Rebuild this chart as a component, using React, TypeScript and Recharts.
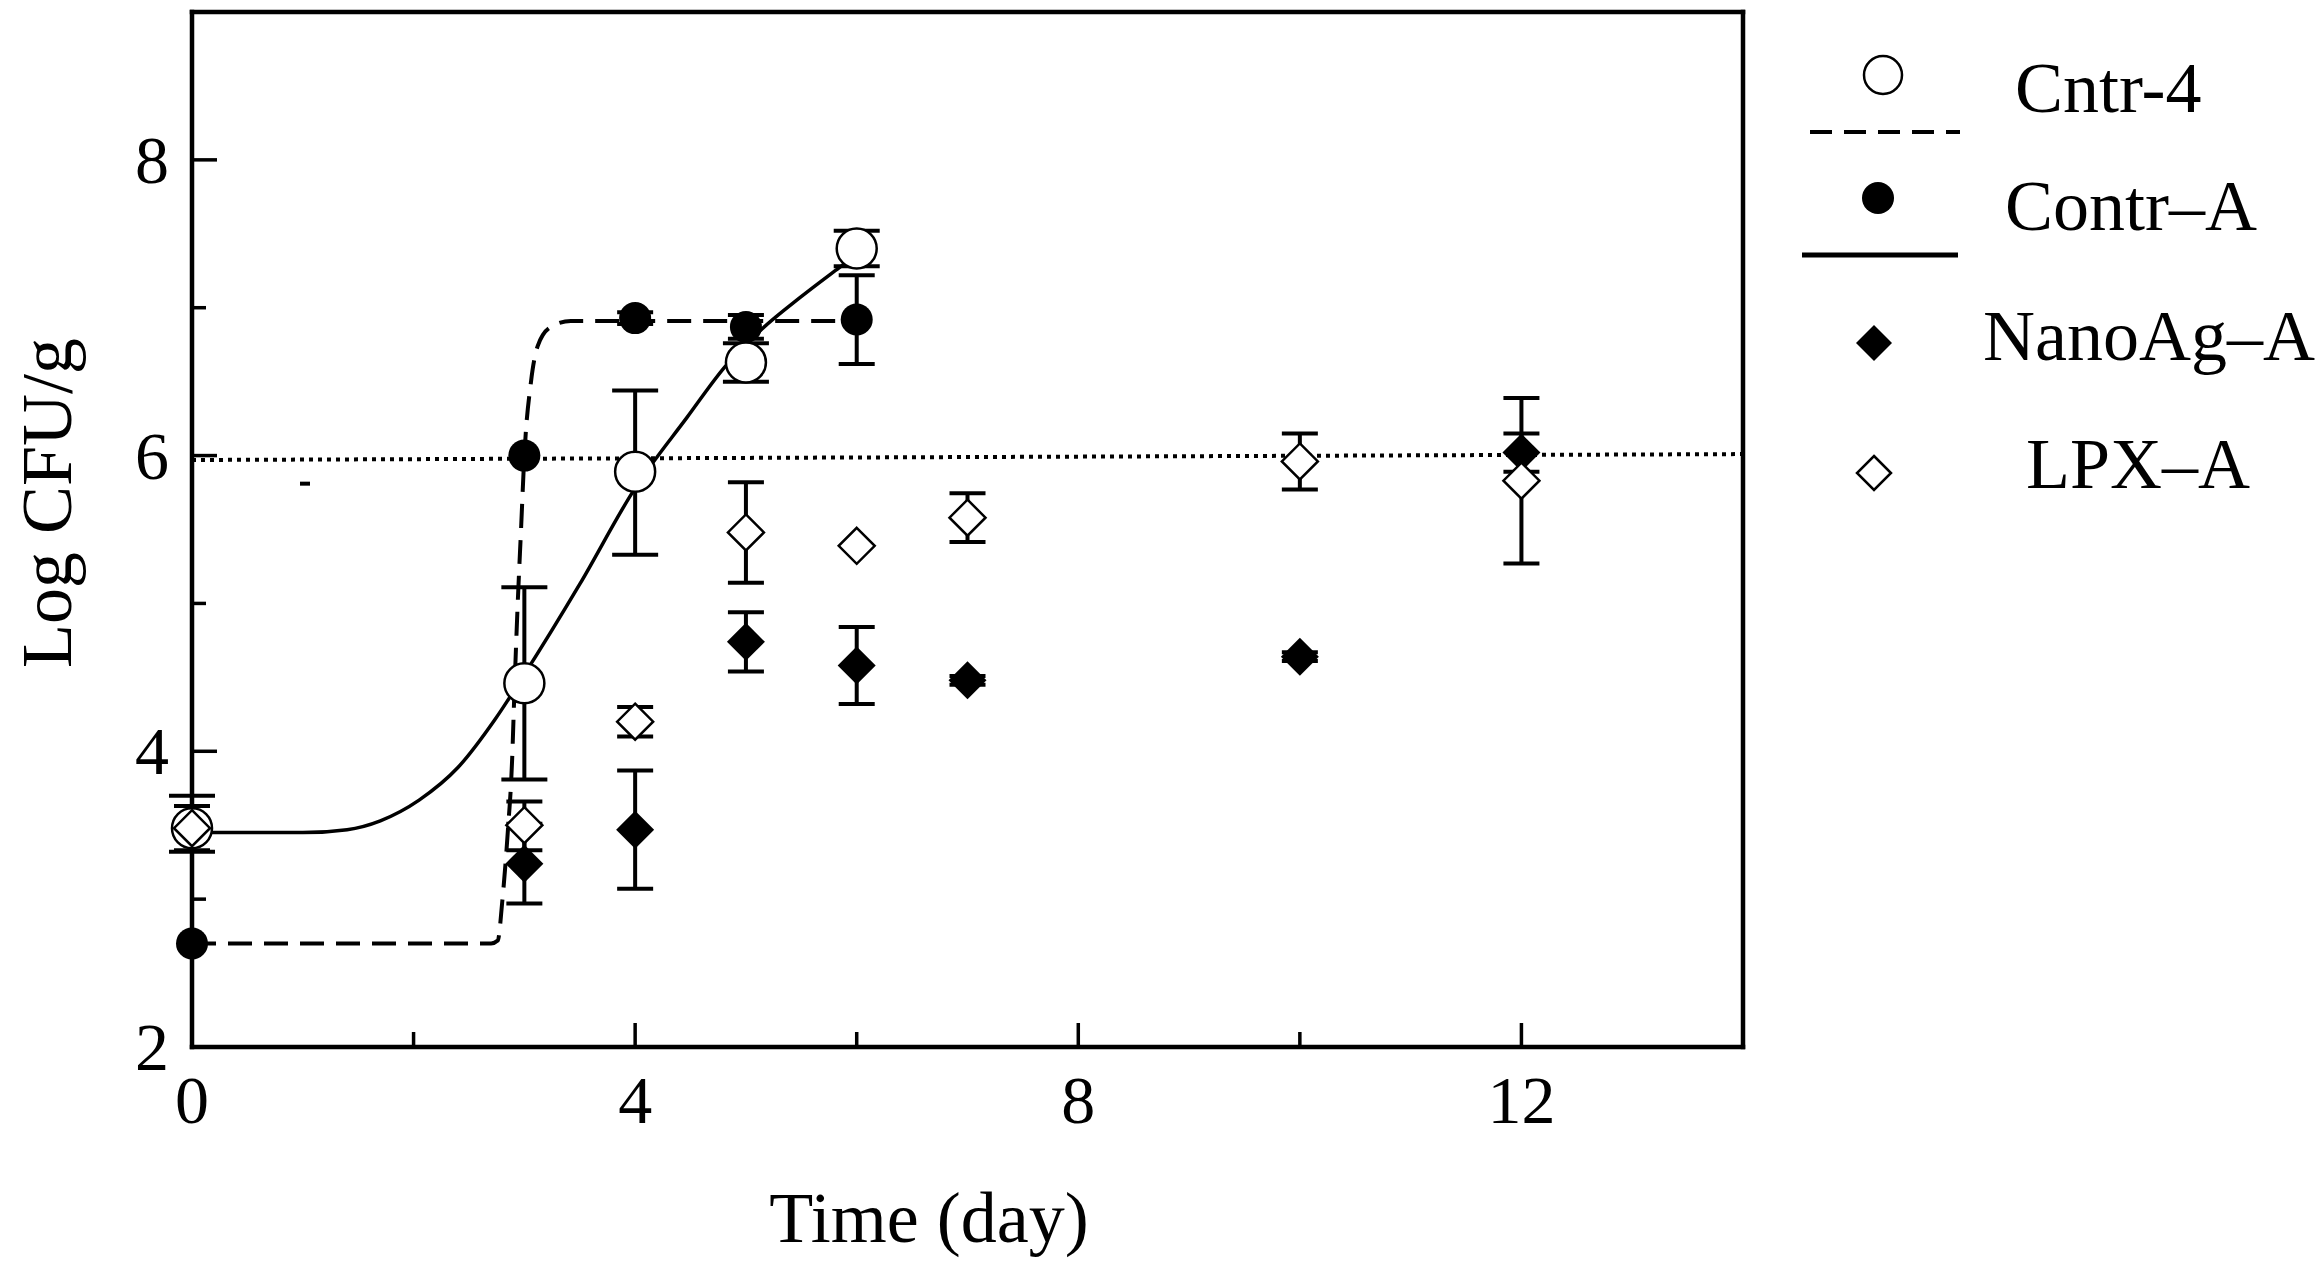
import React from "react";
import { ComposedChart, ErrorBar, Line, Scatter, XAxis, YAxis } from "recharts";

// measured points, err = ± or [minus, plus]
const cntr4 = [
  { x: 0, y: 3.48, err: [0.16, 0.22] },
  { x: 3, y: 4.46, err: 0.65 },
  { x: 4, y: 5.89, err: [0.56, 0.55] },
  { x: 5, y: 6.63, err: 0.13 },
  { x: 6, y: 7.4, err: 0.12 },
];

const contrA = [
  { x: 0, y: 2.7, err: null },
  { x: 3, y: 6.0, err: null },
  { x: 4, y: 6.93, err: 0.04 },
  { x: 5, y: 6.87, err: 0.08 },
  { x: 6, y: 6.92, err: 0.3 },
];

const nanoAgA = [
  { x: 3, y: 3.24, err: 0.27 },
  { x: 4, y: 3.47, err: 0.4 },
  { x: 5, y: 4.74, err: 0.2 },
  { x: 6, y: 4.58, err: 0.26 },
  { x: 7, y: 4.48, err: 0.03 },
  { x: 10, y: 4.64, err: 0.03 },
  { x: 12, y: 6.02, err: 0.13 },
];

const lpxA = [
  { x: 0, y: 3.48, err: 0.15 },
  { x: 3, y: 3.5, err: [0.17, 0.16] },
  { x: 4, y: 4.2, err: 0.1 },
  { x: 5, y: 5.48, err: 0.34 },
  { x: 6, y: 5.39, err: null },
  { x: 7, y: 5.58, err: 0.165 },
  { x: 10, y: 5.96, err: 0.19 },
  { x: 12, y: 5.83, err: 0.56 },
];

// fitted curves
const dashedFit = [
  { x: 0, y: 2.7 },
  { x: 2.7, y: 2.7 },
  { x: 2.76, y: 2.72 },
  { x: 2.8, y: 2.98 },
  { x: 2.85, y: 3.45 },
  { x: 2.89, y: 3.95 },
  { x: 2.91, y: 4.4 },
  { x: 2.94, y: 5.0 },
  { x: 2.97, y: 5.5 },
  { x: 3.0, y: 6.0 },
  { x: 3.06, y: 6.5 },
  { x: 3.12, y: 6.74 },
  { x: 3.24, y: 6.87 },
  { x: 3.42, y: 6.91 },
  { x: 6, y: 6.91 },
];

const solidFit = [
  { x: 0, y: 3.45 },
  { x: 1, y: 3.45 },
  { x: 1.4, y: 3.47 },
  { x: 1.7, y: 3.53 },
  { x: 2.05, y: 3.67 },
  { x: 2.4, y: 3.89 },
  { x: 2.73, y: 4.21 },
  { x: 3.0, y: 4.52 },
  { x: 3.5, y: 5.13 },
  { x: 4.0, y: 5.78 },
  { x: 4.47, y: 6.26 },
  { x: 4.81, y: 6.6 },
  { x: 5.15, y: 6.86 },
  { x: 5.49, y: 7.07 },
  { x: 5.84, y: 7.27 },
  { x: 6.0, y: 7.36 },
];

const threshold = [
  { x: 0, y: 5.97 },
  { x: 14, y: 6.01 },
];

const stray = [{ x: 1.02, y: 5.81 }];

const xTicks = [0, 2, 4, 6, 8, 10, 12];
const yTicks = [2, 3, 4, 5, 6, 7, 8];
const legendLabels = ["Cntr-4", "Contr–A", "NanoAg–A", "LPX–A"];

const FONT = "'Liberation Serif', 'Times New Roman', serif";
const INK = "#000";

const openCircle = (p: any) => (
  <circle cx={p.cx} cy={p.cy} r={20} fill="#fff" stroke={INK} strokeWidth={2.5} />
);
const dot = (p: any) => <circle cx={p.cx} cy={p.cy} r={16} fill={INK} />;
const diamond = (cx: number, cy: number, h: number) =>
  `M${cx},${cy - h} L${cx + h},${cy} L${cx},${cy + h} L${cx - h},${cy} Z`;
const filledDiamond = (p: any) => <path d={diamond(p.cx, p.cy, 19)} fill={INK} />;
const openDiamond = (p: any) => (
  <path d={diamond(p.cx, p.cy, 18)} fill="#fff" stroke={INK} strokeWidth={2.5} />
);
const dash = (p: any) => <rect x={p.cx - 5} y={p.cy - 2} width={10} height={4} fill={INK} />;

const BottomTick = (p: any) => {
  const v = p.payload.value;
  const major = v % 4 === 0;
  return (
    <g>
      <line x1={p.x} x2={p.x} y1={p.y} y2={p.y - (major ? 24 : 15)} stroke={INK} strokeWidth={3.5} />
      {major && (
        <text x={p.x} y={p.y + 76} textAnchor="middle" fontFamily={FONT} fontSize={68} fill={INK}>
          {v}
        </text>
      )}
    </g>
  );
};

const TopTick = (p: any) => {
  const major = p.payload.value % 4 === 0;
  return <line x1={p.x} x2={p.x} y1={p.y} y2={p.y + (major ? 24 : 15)} stroke={INK} strokeWidth={3.5} />;
};

const LeftTick = (p: any) => {
  const v = p.payload.value;
  const major = v % 2 === 0;
  return (
    <g>
      <line x1={p.x} x2={p.x + (major ? 25 : 14)} y1={p.y} y2={p.y} stroke={INK} strokeWidth={3.5} />
      {major && (
        <text x={p.x - 23} y={p.y} dy="0.34em" textAnchor="end" fontFamily={FONT} fontSize={68} fill={INK}>
          {v}
        </text>
      )}
    </g>
  );
};

const RightTick = (p: any) => {
  const major = p.payload.value % 2 === 0;
  return <line x1={p.x} x2={p.x - (major ? 25 : 14)} y1={p.y} y2={p.y} stroke={INK} strokeWidth={3.5} />;
};

const axisLine = { stroke: INK, strokeWidth: 4.5, strokeLinecap: "square" as const };

export default function App() {
  const common = { xAxisId: "b", yAxisId: "l", isAnimationActive: false };
  return (
    <div style={{ position: "relative", width: 2318, height: 1279, background: "#fff" }}>
      <style>{"body{margin:0}"}</style>
      <ComposedChart width={2318} height={1279} margin={{ top: 0, right: 570, bottom: 0, left: 0 }}>
        <XAxis
          xAxisId="b"
          dataKey="x"
          type="number"
          domain={[0, 14]}
          ticks={xTicks}
          interval={0}
          height={232}
          tickSize={0}
          tickMargin={0}
          tickLine={false}
          axisLine={axisLine}
          tick={<BottomTick />}
        />
        <XAxis
          xAxisId="t"
          orientation="top"
          dataKey="x"
          type="number"
          domain={[0, 14]}
          ticks={xTicks}
          interval={0}
          height={12}
          tickSize={0}
          tickMargin={0}
          tickLine={false}
          axisLine={axisLine}
          tick={<TopTick />}
        />
        <YAxis
          yAxisId="l"
          type="number"
          domain={[2, 9]}
          ticks={yTicks}
          interval={0}
          width={192}
          tickSize={0}
          tickMargin={0}
          tickLine={false}
          axisLine={axisLine}
          tick={<LeftTick />}
        />
        <YAxis
          yAxisId="r"
          orientation="right"
          type="number"
          domain={[2, 9]}
          ticks={yTicks}
          interval={0}
          width={5}
          tickSize={0}
          tickMargin={0}
          tickLine={false}
          axisLine={axisLine}
          tick={<RightTick />}
        />

        <Line {...common} data={threshold} dataKey="y" type="linear" stroke={INK} strokeWidth={4}
          strokeDasharray="4 5" dot={false} activeDot={false} />
        <Line {...common} data={dashedFit} dataKey="y" type="monotone" stroke={INK} strokeWidth={4}
          strokeDasharray="24 12" dot={false} activeDot={false} />
        <Line {...common} data={solidFit} dataKey="y" type="monotone" stroke={INK} strokeWidth={3.5}
          dot={false} activeDot={false} />

        <Scatter {...common} data={stray} dataKey="y" shape={dash} />
        <Scatter {...common} name={legendLabels[0]} data={cntr4} dataKey="y" shape={openCircle}>
          <ErrorBar dataKey="err" direction="y" width={23} stroke={INK} strokeWidth={4} isAnimationActive={false} />
        </Scatter>
        <Scatter {...common} name={legendLabels[1]} data={contrA} dataKey="y" shape={dot}>
          <ErrorBar dataKey="err" direction="y" width={18} stroke={INK} strokeWidth={4} isAnimationActive={false} />
        </Scatter>
        <Scatter {...common} name={legendLabels[2]} data={nanoAgA} dataKey="y" shape={filledDiamond}>
          <ErrorBar dataKey="err" direction="y" width={18} stroke={INK} strokeWidth={4} isAnimationActive={false} />
        </Scatter>
        <Scatter {...common} name={legendLabels[3]} data={lpxA} dataKey="y" shape={openDiamond}>
          <ErrorBar dataKey="err" direction="y" width={18} stroke={INK} strokeWidth={4} isAnimationActive={false} />
        </Scatter>
      </ComposedChart>

      {/* legend and axis titles */}
      <svg width={2318} height={1279} style={{ position: "absolute", left: 0, top: 0, pointerEvents: "none" }}>
        <g fontFamily={FONT} fontSize={72} fill={INK}>
          <text x={71} y={503} textAnchor="middle" transform="rotate(-90 71 503)">Log CFU/g</text>
          <text x={929} y={1242} textAnchor="middle">Time (day)</text>

          <circle cx={1883} cy={75} r={19} fill="#fff" stroke={INK} strokeWidth={2.5} />
          <text x={2015} y={112}>{legendLabels[0]}</text>
          <line x1={1810} x2={1960} y1={132} y2={132} stroke={INK} strokeWidth={4} strokeDasharray="22 12" />

          <circle cx={1878} cy={198} r={16} fill={INK} />
          <text x={2005} y={230}>{legendLabels[1]}</text>
          <line x1={1802} x2={1958} y1={255} y2={255} stroke={INK} strokeWidth={5} />

          <path d={diamond(1874, 343, 18)} fill={INK} />
          <text x={1983} y={360}>{legendLabels[2]}</text>

          <path d={diamond(1874, 473, 17)} fill="#fff" stroke={INK} strokeWidth={2.5} />
          <text x={2026} y={488}>{legendLabels[3]}</text>
        </g>
      </svg>
    </div>
  );
}
